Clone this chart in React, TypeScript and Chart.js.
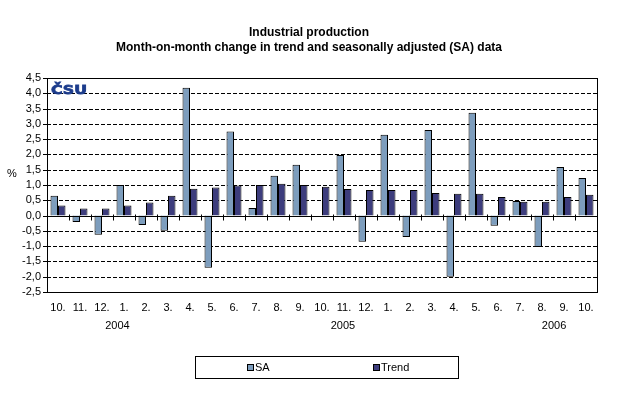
import React, { useEffect, useRef } from "react";
import { Chart, registerables } from "chart.js";

Chart.register(...registerables);

const months = ["10.", "11.", "12.", "1.", "2.", "3.", "4.", "5.", "6.", "7.", "8.", "9.", "10.", "11.", "12.", "1.", "2.", "3.", "4.", "5.", "6.", "7.", "8.", "9.", "10."];
const saValues = [0.65, -0.21, -0.63, 1.0, -0.31, -0.5, 4.18, -1.71, 2.75, 0.25, 1.3, 1.66, 0, 1.98, -0.86, 2.64, -0.7, 2.8, -2.0, 3.36, -0.33, 0.48, -1.03, 1.59, 1.23];
const trendValues = [0.33, 0.23, 0.23, 0.33, 0.43, 0.65, 0.88, 0.92, 0.98, 1.0, 1.04, 1.0, 0.94, 0.87, 0.84, 0.84, 0.84, 0.74, 0.71, 0.71, 0.61, 0.45, 0.45, 0.61, 0.68];
const yearLabels = ["2004", "2005", "2006"];
const yearLabelCategory = [2.7, 12.95, 22.55];
const titleLines = ["Industrial production", "Month-on-month change in trend and seasonally adjusted (SA) data"];
const yAxisLabel = "%";
const logoText = "ČSU";
const yMin = -2.5;
const yMax = 4.5;
const yStep = 0.5;

const FONT = "'Liberation Sans', Arial, sans-serif";
const SA_COLOR = "#7d9dbd";
const TREND_COLOR = "#3d3d7d";

const decor = {
  id: "decor",
  beforeDatasetsDraw(chart: any) {
    const { ctx, chartArea: a, scales } = chart;
    const y = scales.y;
    ctx.save();
    ctx.strokeStyle = "#000";
    ctx.lineWidth = 1;
    ctx.setLineDash([4, 2]);
    const n = Math.round((yMax - yMin) / yStep);
    for (let i = 1; i < n; i++) {
      const v = yMin + i * yStep;
      if (Math.abs(v) < 1e-9) continue;
      const py = Math.round(y.getPixelForValue(v)) + 0.5;
      ctx.beginPath();
      ctx.moveTo(a.left, py);
      ctx.lineTo(a.right, py);
      ctx.stroke();
    }
    ctx.restore();
  },
  afterDatasetsDraw(chart: any) {
    const { ctx, chartArea: a, scales } = chart;
    const y = scales.y;
    ctx.save();
    ctx.strokeStyle = "#000";
    ctx.lineWidth = 1;
    ctx.setLineDash([]);
    const zy = Math.round(y.getPixelForValue(0)) + 0.5;
    ctx.beginPath();
    ctx.moveTo(a.left, zy);
    ctx.lineTo(a.right, zy);
    ctx.stroke();
    const cw = (a.right - a.left) / months.length;
    for (let i = 0; i <= months.length; i++) {
      const px = Math.round(a.left + i * cw) + 0.5;
      ctx.beginPath();
      ctx.moveTo(px, zy - 2);
      ctx.lineTo(px, zy + 4);
      ctx.stroke();
    }
    const n = Math.round((yMax - yMin) / yStep);
    for (let i = 0; i <= n; i++) {
      const py = Math.round(y.getPixelForValue(yMin + i * yStep)) + 0.5;
      ctx.beginPath();
      ctx.moveTo(a.left - 4, py);
      ctx.lineTo(a.left + 4, py);
      ctx.stroke();
    }
    ctx.strokeRect(Math.round(a.left) + 0.5, Math.round(a.top) + 0.5, Math.round(a.right - a.left), Math.round(a.bottom - a.top));
    // logo
    ctx.save();
    ctx.fillStyle = "#1c3c8c";
    ctx.strokeStyle = "#1c3c8c";
    ctx.lineWidth = 0.8;
    ctx.font = "bold 13px 'DejaVu Sans'";
    ctx.textBaseline = "alphabetic";
    ctx.textAlign = "left";
    const w = ctx.measureText(logoText).width;
    ctx.translate(a.left + 4, a.top + 15.5);
    ctx.scale(36 / w, 1);
    ctx.fillText(logoText, 0, 0);
    ctx.strokeText(logoText, 0, 0);
    ctx.restore();
    ctx.restore();
  },
  afterDraw(chart: any) {
    const { ctx, chartArea: a, scales } = chart;
    const x = scales.x;
    const W = chart.width;
    ctx.save();
    ctx.fillStyle = "#000";
    ctx.textBaseline = "middle";
    ctx.textAlign = "center";
    ctx.font = "bold 12px " + FONT;
    ctx.fillText(titleLines[0], W / 2, 32.5);
    ctx.fillText(titleLines[1], W / 2, 48);
    ctx.font = "11px " + FONT;
    ctx.fillText(yAxisLabel, 12, 174);
    const cw = (a.right - a.left) / months.length;
    yearLabels.forEach((lab, i) => {
      const px = x.getPixelForValue(0) + yearLabelCategory[i] * cw;
      ctx.fillText(lab, px, 326);
    });
    ctx.strokeStyle = "#000";
    ctx.lineWidth = 1;
    ctx.strokeRect(195.5, 356.5, 263, 22);
    const ds = chart.data.datasets;
    const itemX = [247, 373];
    ctx.textAlign = "left";
    ds.forEach((d: any, i: number) => {
      const sx = itemX[i];
      ctx.fillStyle = d.backgroundColor;
      ctx.fillRect(sx, 364, 6, 6);
      ctx.strokeRect(sx + 0.5, 364.5, 6, 6);
      ctx.fillStyle = "#000";
      ctx.fillText(d.label, sx + 8, 368);
    });
    ctx.restore();
  },
};

export default function App() {
  const ref = useRef<HTMLCanvasElement>(null);
  useEffect(() => {
    document.body.style.margin = "0";
    const canvas = ref.current!;
    const chart = new Chart(canvas, {
      type: "bar",
      data: {
        labels: months,
        datasets: [
          { label: "SA", data: saValues, backgroundColor: SA_COLOR, borderColor: "#000", borderWidth: 1, categoryPercentage: 0.68, barPercentage: 1.0 },
          { label: "Trend", data: trendValues, backgroundColor: TREND_COLOR, borderColor: "#000", borderWidth: 1, categoryPercentage: 0.68, barPercentage: 1.0 },
        ],
      },
      options: {
        responsive: false,
        devicePixelRatio: 1,
        animation: false,
        layout: { padding: { top: 78, left: 0, right: 21, bottom: 0 } },
        plugins: { legend: { display: false }, title: { display: false }, tooltip: { enabled: false } },
        scales: {
          x: {
            grid: { display: false, drawTicks: false },
            border: { display: false },
            ticks: { color: "#000", font: { family: FONT, size: 11 }, padding: 9, maxRotation: 0, autoSkip: false },
            afterFit: (s: any) => { s.height = 105; },
          },
          y: {
            min: yMin,
            max: yMax,
            grid: { display: false, drawTicks: false },
            border: { display: false },
            ticks: {
              stepSize: yStep,
              autoSkip: false,
              color: "#000",
              font: { family: FONT, size: 11 },
              padding: 6,
              callback: (v: any) => Number(v).toFixed(1).replace(".", ","),
            },
            afterFit: (s: any) => { s.width = 47; },
          },
        },
      },
      plugins: [decor],
    } as any);
    return () => chart.destroy();
  }, []);
  return <canvas ref={ref} width={618} height={397} style={{ display: "block" }} />;
}
